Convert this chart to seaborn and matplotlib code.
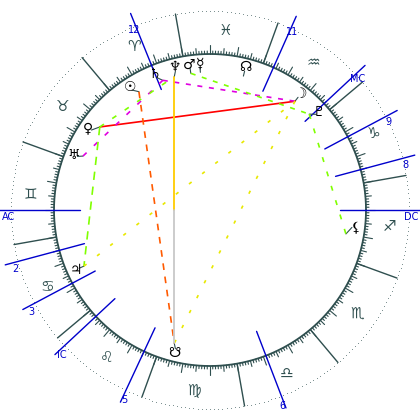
import numpy as np
import pandas as pd
import matplotlib
matplotlib.use("Agg")
import matplotlib.pyplot as plt
import seaborn as sns

sns.set_theme(style="white")
plt.rcParams['font.family'] = ['DejaVu Sans']

# zodiac signs (screen angle of start of each sign, counter-clockwise)
signs = ['♈', '♉', '♊', '♋', '♌', '♍', '♎', '♏', '♐', '♑', '♒', '♓']
aries_start = 100
# house cusps (screen angles in degrees)
house_labels = ['AC', '2', '3', 'IC', '5', '6', 'DC', '8', '9', 'MC', '11', '12']
house_angles = [180, 195, 208, 223, 245, 291, 0, 15, 28, 43, 66, 112]
# planets
planet_names = ['Sun', 'Saturn', 'Neptune', 'Mars', 'Mercury', 'Node', 'Moon', 'Pluto',
                'Venus', 'Uranus', 'Jupiter', 'Lilith', 'SNode']
planet_glyphs = ['☉', '♄', '♆', '♂', '☿', '☊', '☽', '♇', '♀', '♅', '♃', '⚸', '☋']
planet_angles = [121, 110, 105, 98, 94, 76, 52, 44, 143, 157, 204, -10, 255]
glyph_angles = [123, 112, 104, 98, 94, 76, 52, 42, 146, 158, 204, -7, 256]
# aspects: (from, to, colour, style)
asp_from = ['Venus', 'Sun', 'Saturn', 'Mars', 'Pluto', 'Uranus', 'Venus', 'Venus', 'Jupiter', 'Moon']
asp_to = ['Moon', 'SNode', 'Moon', 'Pluto', 'Lilith', 'Saturn', 'Neptune', 'Jupiter', 'Moon', 'SNode']
asp_color = ['#ff0000', '#ff5a00', '#e000e0', '#80ff00', '#80ff00', '#e000e0', '#80ff00', '#80ff00', '#e8e800', '#e8e800']
asp_style = ['-', (0, (4, 4)), (0, (3, 4)), (0, (3, 4)), (0, (3, 6)), (0, (3, 6)), (0, (3, 6)), (0, (5, 4)), (0, (2, 8)), (0, (2, 8))]

C = 210.0
R_IN, R_OUT = 156, 199
R_LINE, R_GLYPH = 138, 147
DARK = '#2f4f4f'
BLUE = '#0000cc'

def pt(a, r):
    t = np.deg2rad(a)
    return C + r * np.cos(t), C - r * np.sin(t)

fig = plt.figure(figsize=(4.2, 4.2), dpi=100)
ax = fig.add_axes([0, 0, 1, 1])
ax.set_xlim(0, 420); ax.set_ylim(420, 0); ax.axis('off')

th = np.linspace(0, 360, 721)
x, y = pt(th, R_IN)
ax.plot(x, y, color=DARK, lw=1.3)
x, y = pt(np.arange(0, 360, 1.2), R_OUT)
ax.scatter(x, y, s=0.25, color=DARK, linewidths=0)

for d in range(360):
    a = aries_start + d
    L = 9 if d % 10 == 0 else (6 if d % 5 == 0 else 3)
    x0, y0 = pt(a, R_IN); x1, y1 = pt(a, R_IN + L)
    ax.plot([x0, x1], [y0, y1], color=DARK, lw=0.8)

for i, s in enumerate(signs):
    a = aries_start + 30 * i
    x0, y0 = pt(a, R_IN); x1, y1 = pt(a, R_OUT)
    ax.plot([x0, x1], [y0, y1], color=DARK, lw=1)
    gx, gy = pt(a + 15, 180)
    ax.text(gx, gy, s, color=DARK, fontsize=11, ha='center', va='center')

for lab, a in zip(house_labels, house_angles):
    x0, y0 = pt(a, 130); x1, y1 = pt(a, 212)
    ax.plot([x0, x1], [y0, y1], color=BLUE, lw=1)
    lx, ly = pt(a, 202)
    ax.text(min(max(lx, 9), 411), ly + 7, lab, color=BLUE, fontsize=7, ha='center', va='center')

pos = {n: a for n, a in zip(planet_names, planet_angles)}
for n, g, a, ga in zip(planet_names, planet_glyphs, planet_angles, glyph_angles):
    x0, y0 = pt(a, R_LINE); x1, y1 = pt(ga, R_GLYPH - 4)
    ax.plot([x0, x1], [y0, y1], color=DARK, lw=0.8)
    gx, gy = pt(ga, R_GLYPH)
    ax.text(gx, gy, g, color='black', fontsize=10, ha='center', va='center')

for f, t, c, ls in zip(asp_from, asp_to, asp_color, asp_style):
    x0, y0 = pt(pos[f], R_LINE); x1, y1 = pt(pos[t], R_LINE)
    sns.lineplot(x=[x0, x1], y=[y0, y1], sort=False, estimator=None, ax=ax,
                 color=c, lw=1.2, linestyle=ls)

# Neptune - South node opposition: yellow upper half, grey lower half
x0, y0 = pt(pos['Neptune'], R_LINE); x1, y1 = pt(pos['SNode'], R_LINE)
xm, ym = (x0 + x1) / 2, (y0 + y1) / 2
ax.plot([x0, xm], [y0, ym], color='#ffcc00', lw=1.3)
ax.plot([xm, x1], [ym, y1], color='#c8c8c8', lw=1.3)

fig.savefig('out.png', dpi=100)
